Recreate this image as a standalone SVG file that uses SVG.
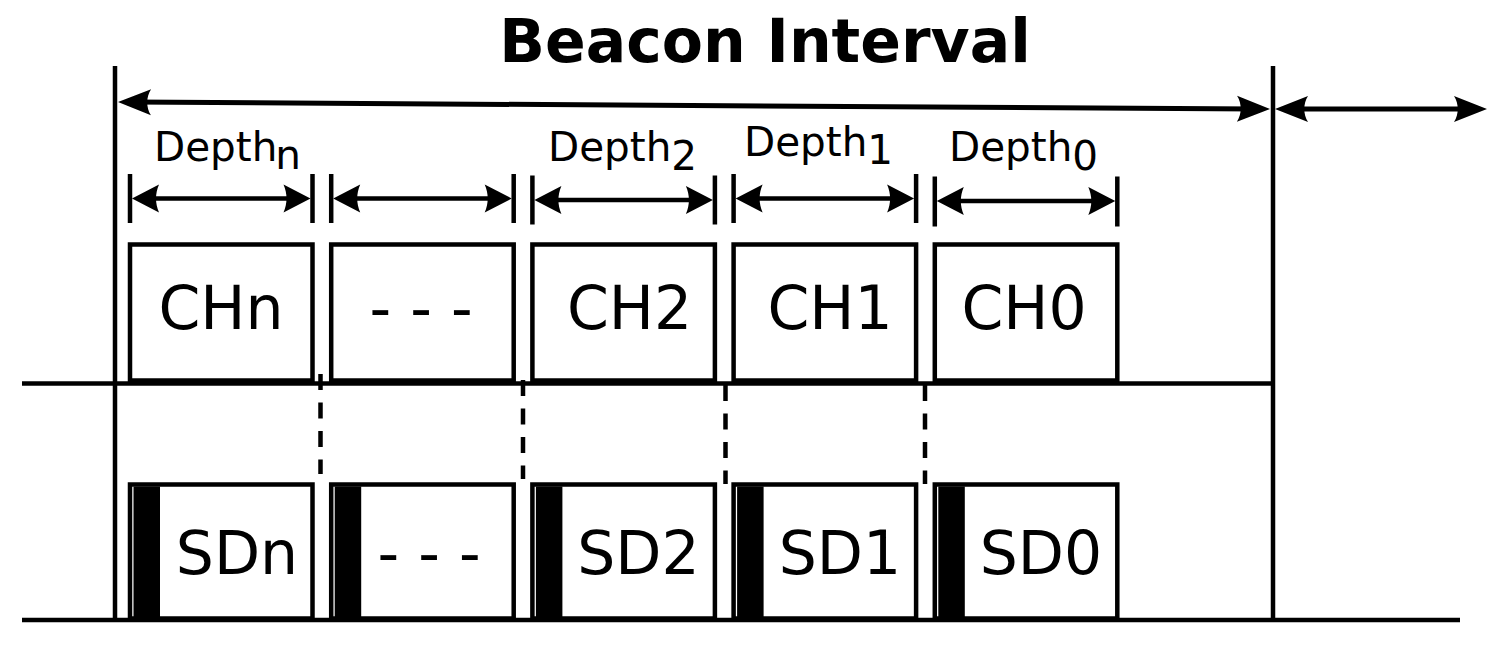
<svg xmlns="http://www.w3.org/2000/svg" width="1500" height="668" viewBox="0 0 1500 668">
<style>
text{font-family:"DejaVu Sans","Liberation Sans",sans-serif;fill:#000}
.title{font-size:60px;font-weight:bold}
.lbl{font-size:60px;text-anchor:middle}
.dep{font-size:40.5px}
.box{fill:#fff;stroke:#000;stroke-width:4.5}
.bar{fill:#000}
.ln{stroke:#000;stroke-width:4.5;fill:none}
.dim{stroke:#000;stroke-width:4.5;fill:none;marker-start:url(#sa);marker-end:url(#sa)}
.big{stroke:#000;stroke-width:5;fill:none;marker-start:url(#ba);marker-end:url(#ba)}
.tick{stroke:#000;stroke-width:4.5}
.dash{stroke:#000;stroke-width:4.5;stroke-dasharray:16 12.5;fill:none}
</style>
<defs>
<marker id="sa" markerUnits="userSpaceOnUse" orient="auto-start-reverse" refX="0" refY="0" markerWidth="60" markerHeight="60" viewBox="-30 -30 60 60" overflow="visible">
<path d="M12,0 L-15,-14 C-11,-5 -11,5 -15,14 Z" fill="#000"/>
</marker>
<marker id="ba" markerUnits="userSpaceOnUse" orient="auto-start-reverse" refX="0" refY="0" markerWidth="70" markerHeight="70" viewBox="-35 -35 70 70" overflow="visible">
<path d="M14,0 L-19,-13 C-14,-5 -14,5 -19,13 Z" fill="#000"/>
</marker>
</defs>
<rect width="1500" height="668" fill="#fff"/>
<text class="title" x="765" y="62" text-anchor="middle">Beacon Interval</text>

<g id="axes">
<line class="ln" x1="115" y1="66" x2="115" y2="620"/>
<line class="ln" x1="1273" y1="66" x2="1273" y2="620"/>
<line class="ln" x1="22" y1="383.5" x2="1273" y2="383.5"/>
<line class="ln" x1="22" y1="620" x2="1460" y2="620"/>
</g>

<g id="ch-n"><rect class="box" x="130" y="244.5" width="182.5" height="136"/><text class="lbl" x="221" y="328.5">CHn</text></g>
<g id="ch-dots"><rect class="box" x="331.2" y="244.5" width="182.5" height="136"/><text class="lbl" x="421" y="328.5">- - -</text></g>
<g id="ch-2"><rect class="box" x="532.4" y="244.5" width="182.5" height="136"/><text class="lbl" x="629.5" y="328.5">CH2</text></g>
<g id="ch-1"><rect class="box" x="733.6" y="244.5" width="182.5" height="136"/><text class="lbl" x="830" y="328.5">CH1</text></g>
<g id="ch-0"><rect class="box" x="934.8" y="244.5" width="182.5" height="136"/><text class="lbl" x="1024" y="328.5">CH0</text></g>

<g id="sd-n"><rect class="box" x="130" y="484.5" width="182.5" height="134"/><rect class="bar" x="133.5" y="486.5" width="26.5" height="131"/><text class="lbl" x="237" y="574">SDn</text></g>
<g id="sd-dots"><rect class="box" x="331.2" y="484.5" width="182.5" height="134"/><rect class="bar" x="334.7" y="486.5" width="26.5" height="131"/><text class="lbl" x="429" y="574">- - -</text></g>
<g id="sd-2"><rect class="box" x="532.4" y="484.5" width="182.5" height="134"/><rect class="bar" x="535.9" y="486.5" width="26.5" height="131"/><text class="lbl" x="638.5" y="574">SD2</text></g>
<g id="sd-1"><rect class="box" x="733.6" y="484.5" width="182.5" height="134"/><rect class="bar" x="737.1" y="486.5" width="26.5" height="131"/><text class="lbl" x="840" y="574">SD1</text></g>
<g id="sd-0"><rect class="box" x="934.8" y="484.5" width="182.5" height="134"/><rect class="bar" x="938.3" y="486.5" width="26.5" height="131"/><text class="lbl" x="1041" y="574">SD0</text></g>

<g id="labels">
<text class="dep" x="154" y="161">Depth<tspan dy="8" dx="-2">n</tspan></text>
<text class="dep" x="548" y="161">Depth<tspan dy="9">2</tspan></text>
<text class="dep" x="744" y="156">Depth<tspan dy="8">1</tspan></text>
<text class="dep" x="949" y="161">Depth<tspan dy="9">0</tspan></text>
</g>

<g id="connectors">
<line class="big" x1="132" y1="102.1" x2="1256" y2="108.9"/>
<line class="big" x1="1289" y1="109" x2="1473" y2="109"/>

<line class="tick" x1="130" y1="174" x2="130" y2="223"/>
<line class="tick" x1="312.5" y1="174" x2="312.5" y2="223"/>
<line class="dim" x1="144" y1="198.5" x2="298.5" y2="198.5"/>

<line class="tick" x1="331.2" y1="174" x2="331.2" y2="223"/>
<line class="tick" x1="513.7" y1="174" x2="513.7" y2="223"/>
<line class="dim" x1="345.2" y1="198.5" x2="499.7" y2="198.5"/>

<line class="tick" x1="532.4" y1="175.5" x2="532.4" y2="224.5"/>
<line class="tick" x1="714.9" y1="175.5" x2="714.9" y2="224.5"/>
<line class="dim" x1="546.4" y1="200" x2="700.9" y2="200"/>

<line class="tick" x1="733.6" y1="174" x2="733.6" y2="223"/>
<line class="tick" x1="916.1" y1="174" x2="916.1" y2="223"/>
<line class="dim" x1="747.6" y1="198.5" x2="902.1" y2="198.5"/>

<line class="tick" x1="934.8" y1="176.5" x2="934.8" y2="226.5"/>
<line class="tick" x1="1117.3" y1="176.5" x2="1117.3" y2="226.5"/>
<line class="dim" x1="948.8" y1="201" x2="1103.3" y2="201"/>

<line class="dash" x1="320.5" y1="374" x2="320.5" y2="474"/>
<line class="dash" x1="523" y1="380" x2="523" y2="479"/>
<line class="dash" x1="725.5" y1="385" x2="725.5" y2="484"/>
<line class="dash" x1="925" y1="385" x2="925" y2="484"/>
</g>
</svg>
